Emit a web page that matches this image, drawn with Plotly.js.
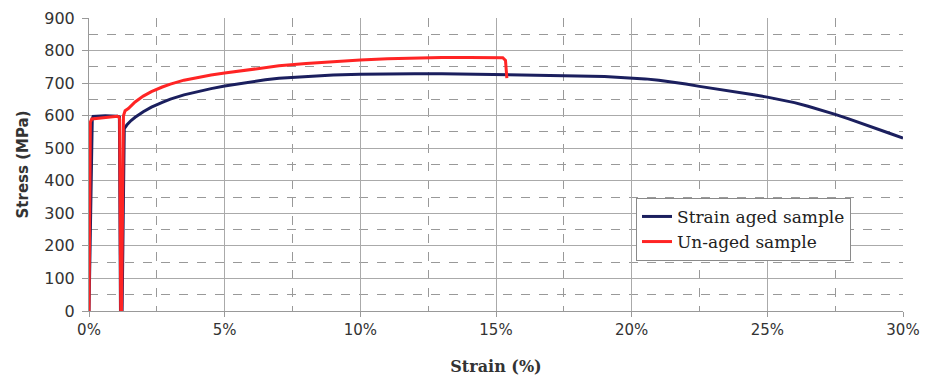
<!DOCTYPE html>
<html>
<head>
<meta charset="utf-8">
<script src="https://cdn.plot.ly/plotly-3.0.1.min.js"></script>
<style>
  html, body { margin: 0; padding: 0; background: #fff; }
  #chart { width: 928px; height: 391px; }
</style>
</head>
<body>
<div id="chart"></div>
<script>
// Strain aged sample: first loading, unload, reload after ageing (strain in %, stress in MPa)
const agedStrain = [0, 0.08, 0.12, 0.15, 0.6, 1.05, 1.12, 1.16, 1.22, 1.3, 1.4, 1.55, 1.7, 2.0, 2.3, 2.7, 3, 3.5, 4, 4.5, 5, 5.5, 6, 6.5, 7, 7.5, 8, 9, 10, 11, 12, 13, 14, 15, 16, 17, 18, 19, 20, 20.5, 21, 21.5, 22, 22.5, 23, 23.5, 24, 24.5, 25, 25.5, 26, 26.5, 27, 27.5, 28, 28.5, 29, 29.5, 30];
const agedStress = [0, 330, 590, 598, 600, 598, 596, 0, 0, 560, 572, 585, 595, 612, 626, 641, 651, 664, 674, 683, 691, 698, 704, 710, 715, 718, 721, 725, 727, 729, 729, 729, 728, 727, 726, 724, 722, 720, 716, 713, 709, 704, 697, 690, 684, 677, 670, 664, 657, 649, 640, 629, 617, 604, 590, 576, 561, 546, 531];

// Un-aged sample: same prestrain, reloaded without ageing
const unagedStrain = [0, 0.05, 0.1, 0.5, 0.9, 1.05, 1.1, 1.13, 1.17, 1.2, 1.27, 1.33, 1.45, 1.7, 2.0, 2.3, 2.7, 3, 3.5, 4, 4.5, 5, 5.5, 6, 6.5, 7, 8, 9, 10, 11, 12, 13, 14, 15, 15.25, 15.35, 15.4];
const unagedStress = [0, 580, 590, 594, 598, 598, 596, 588, 0, 0, 600, 615, 622, 642, 660, 674, 688, 697, 709, 718, 725, 731, 737, 743, 748, 753, 760, 766, 771, 775, 778, 779, 779, 779, 778, 770, 715];

const seriesNames = ['Strain aged sample', 'Un-aged sample'];

const xTickVals = [0, 5, 10, 15, 20, 25, 30];
const yTickVals = [0, 100, 200, 300, 400, 500, 600, 700, 800, 900];

const traces = [
  {
    x: agedStrain, y: agedStress, name: seriesNames[0],
    type: 'scatter', mode: 'lines',
    line: { color: '#1b1f5e', width: 3 }
  },
  {
    x: unagedStrain, y: unagedStress, name: seriesNames[1],
    type: 'scatter', mode: 'lines',
    line: { color: '#ff2424', width: 3 }
  }
];

const layout = {
  width: 928, height: 391,
  margin: { l: 89, r: 25, t: 18, b: 80 },
  paper_bgcolor: '#fff', plot_bgcolor: '#fff',
  showlegend: true,
  legend: {
    x: 0.672, y: 0.386, xanchor: 'left', yanchor: 'top',
    bgcolor: '#fff', bordercolor: '#8a8a8a', borderwidth: 1,
    font: { family: 'DejaVu Serif, serif', size: 17, color: '#222' },
    tracegroupgap: 0
  },
  xaxis: {
    range: [0, 30],
    tickvals: xTickVals,
    ticktext: xTickVals.map(v => v + '%'),
    ticks: 'outside', ticklen: 5, tickcolor: '#999',
    showline: true, linecolor: '#999', linewidth: 1,
    showgrid: true, gridcolor: '#aaa', gridwidth: 1,
    minor: { dtick: 2.5, showgrid: true, gridcolor: '#999', griddash: 'dash', gridwidth: 1 },
    zeroline: false,
    tickfont: { family: 'DejaVu Sans, sans-serif', size: 15, color: '#333' },
    title: {
      text: 'Strain (%)', standoff: 22,
      font: { family: 'DejaVu Serif, serif', size: 16, color: '#333', weight: 'bold' }
    }
  },
  yaxis: {
    range: [0, 900],
    tickvals: yTickVals,
    ticks: 'outside', ticklen: 6, tickcolor: '#999',
    ticklabelstandoff: 4,
    showline: true, linecolor: '#999', linewidth: 1,
    showgrid: true, gridcolor: '#aaa', gridwidth: 1,
    minor: { dtick: 50, showgrid: true, gridcolor: '#999', griddash: 'dash', gridwidth: 1 },
    zeroline: false,
    tickfont: { family: 'DejaVu Sans, sans-serif', size: 16, color: '#333' },
    title: {
      text: 'Stress (MPa)', standoff: 12,
      font: { family: 'DejaVu Sans, sans-serif', size: 15, color: '#333', weight: 'bold' }
    }
  }
};

Plotly.newPlot('chart', traces, layout, { staticPlot: true, displayModeBar: false });
</script>
</body>
</html>
